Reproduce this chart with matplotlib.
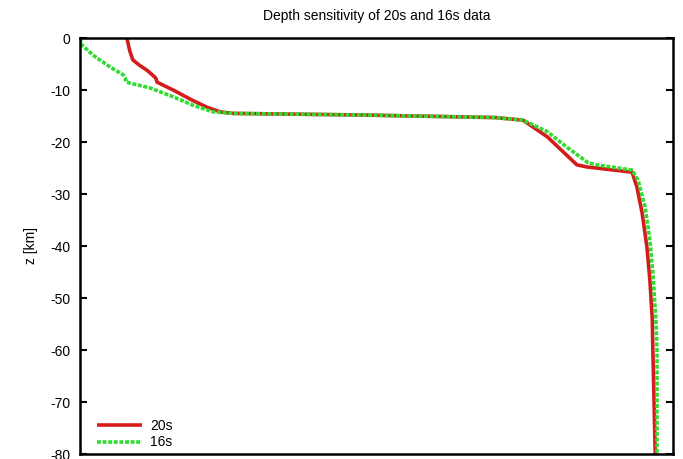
import matplotlib.pyplot as plt

plt.rcParams['font.family'] = ['Liberation Sans', 'DejaVu Sans']
plt.rcParams['axes.unicode_minus'] = False

# Normalised sensitivity (x) against depth z [km]
z_20s = [0, -1, -2.5, -4.2, -5.3, -6.2, -7.5, -7.8, -8.5, -10, -12, -13.3, -14.2,
         -14.5, -14.8, -15.3, -15.8, -19, -24.4, -24.8, -25.8, -28.6, -33.7, -40.2,
         -46.5, -54, -60, -69.6, -80]
sens_20s = [0.079, 0.081, 0.084, 0.089, 0.101, 0.113, 0.126, 0.128, 0.130, 0.157,
            0.190, 0.214, 0.236, 0.258, 0.472, 0.700, 0.747, 0.788, 0.838, 0.855,
            0.931, 0.939, 0.948, 0.956, 0.961, 0.965, 0.966, 0.968, 0.970]

z_16s = [0, -1.3, -3.3, -5.6, -7.1, -7.6, -8.5, -9.6, -11.3, -12.9, -14.2, -14.5,
         -14.8, -15.3, -15.8, -18, -21, -24, -24.4, -25.4, -27.3, -32.5, -38.8,
         -45.2, -54, -60, -80]
sens_16s = [0.0, 0.003, 0.022, 0.051, 0.073, 0.076, 0.078, 0.118, 0.157, 0.190,
            0.224, 0.258, 0.472, 0.700, 0.747, 0.788, 0.821, 0.857, 0.872, 0.931,
            0.941, 0.953, 0.961, 0.966, 0.971, 0.973, 0.973]

y_ticks = list(range(0, -90, -10))

fig = plt.figure(figsize=(6.83, 4.59), dpi=100)
ax = fig.add_axes([80 / 683, 1 - 454 / 459, 593 / 683, 416 / 459])

ax.plot(sens_20s, z_20s, color='#d41c1c', lw=2.6, label='20s', solid_capstyle='butt')
ax.plot(sens_16s, z_16s, color='#2fdc2f', lw=2.6, ls=(0, (1.1, 0.45)),
        dash_capstyle='butt', label='16s')

ax.set_xlim(0, 1)
ax.set_ylim(-80, 0)
ax.set_xticks([])
ax.set_yticks(y_ticks)
ax.tick_params(axis='y', direction='in', length=5, width=1.5, right=True,
               labelsize=10, pad=7)
for s in ax.spines.values():
    s.set_linewidth(1.8)

ax.set_ylabel('z [km]', fontsize=10, labelpad=9)
ax.set_title('Depth sensitivity of 20s and 16s data', fontsize=10, pad=13)

ax.legend(loc='lower left', bbox_to_anchor=(0.008, -0.019), frameon=False,
          handlelength=3.2, fontsize=10, handletextpad=0.6, labelspacing=0.15,
          borderaxespad=0.5)

fig.savefig('out.png', dpi=100)
